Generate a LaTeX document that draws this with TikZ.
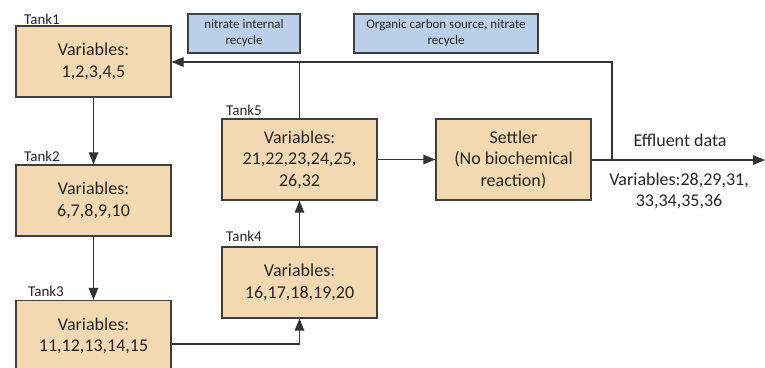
\documentclass[tikz,border=0pt]{standalone}
\usepackage{fontspec}
\setmainfont{Carlito}
\usetikzlibrary{arrows.meta,calc}
\definecolor{tankfill}{HTML}{F3D9B1}
\definecolor{bluefill}{HTML}{BCCFE9}
\definecolor{edgec}{HTML}{3F3F3F}
\definecolor{txt}{HTML}{262626}
\definecolor{linec}{HTML}{333333}
\tikzset{
  tankbox/.style={draw=edgec, line width=1.2bp, fill=tankfill, text=txt, align=center,
    minimum width=155bp, minimum height=71bp, inner sep=0pt,
    font=\fontsize{18bp}{21.5bp}\selectfont},
  bluebox/.style={draw=edgec, line width=1.2bp, fill=bluefill, text=txt, align=center,
    minimum height=39bp, inner sep=0pt,
    font=\fontsize{13bp}{16bp}\selectfont},
  tanklabel/.style={anchor=base west, inner sep=0pt, text=txt, font=\fontsize{15bp}{17bp}\selectfont},
  conn/.style={draw=linec, line width=1.1bp},
  arr/.style={conn, -{Triangle[length=12bp,width=9.5bp]}},
  plain/.style={text=txt, align=center, inner sep=0pt, font=\fontsize{18bp}{21.5bp}\selectfont}
}
\begin{document}
\begin{tikzpicture}[x=1bp,y=-1bp]
\path[use as bounding box] (0,0) rectangle (765,367);
\clip (0,0) rectangle (765,367);
\fill[white] (0,0) rectangle (765,367);
% boxes
\node[tankbox] (t1) at (93.5,61.5) {Variables:\\1,2,3,4,5};
\node[tankbox] (t2) at (93.5,200.5) {Variables:\\6,7,8,9,10};
\node[tankbox] (t3) at (93.5,336) {Variables:\\11,12,13,14,15};
\node[tankbox] (t4) at (299.5,282.5) {Variables:\\16,17,18,19,20};
\node[tankbox, minimum height=81bp] (t5) at (299.5,159.5) {Variables:\\21,22,23,24,25,\\26,32};
\node[tankbox, minimum height=81bp] (st) at (513.5,159.5) {Settler\\(No biochemical\\reaction)};
\node[bluebox, minimum width=112bp] (b1) at (244,33.5) {nitrate internal\\recycle};
\node[bluebox, minimum width=184bp] (b2) at (446,33.5) {Organic carbon source, nitrate\\recycle};
% labels
\node[tanklabel] (l1) at (24,24) {Tank1};
\node[tanklabel] (l2) at (24,161) {Tank2};
\node[tanklabel] (l3) at (28,296) {Tank3};
\node[tanklabel] (l4) at (226,241) {Tank4};
\node[tanklabel] (l5) at (226,115) {Tank5};
% effluent
\coordinate (eend) at (765,160);
\coordinate (rc) at (612,160);
\coordinate (rtop) at (612,62);
\coordinate (mtop) at (299.5,62);
\node[plain] (eff) at (680,140) {Effluent data};
\node[plain] (effv) at (679,191) {Variables:28,29,31,\\33,34,35,36};
% connectors
\draw[arr] (t1) -- (t2);
\draw[arr] (t2) -- (t3);
\draw[arr] (t3.east |- 0,344) -| (t4.south);
\draw[arr] (t4) -- (t5);
\draw[arr] (t5) -- (st);
\draw[arr] (st.east |- eend) -- (eend);
\draw[arr] (rc) -- (rtop) -- (t1.east |- rtop);
\draw[conn] (t5.north) -- (mtop);
\end{tikzpicture}
\end{document}
